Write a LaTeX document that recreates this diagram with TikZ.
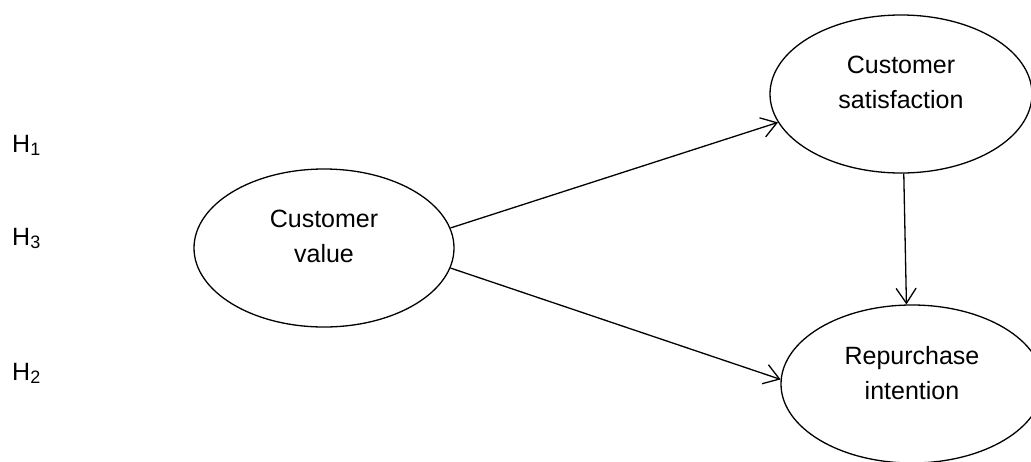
\documentclass[tikz,border=0pt]{standalone}
\usepackage{fontspec}
\setmainfont{Liberation Sans}
\usetikzlibrary{shapes.geometric,arrows.meta}
\begin{document}
\begin{tikzpicture}[x=1pt,y=-1pt,
  ell/.style={draw=black,shape=ellipse,line width=1.3pt,inner sep=0pt},
  txt/.style={inner sep=0pt,align=center,font=\fontsize{25}{35}\selectfont},
  hyp/.style={inner sep=0pt,anchor=base west,font=\fontsize{25}{30}\selectfont},
  conn/.style={line width=1.3pt,-{Straight Barb[length=15pt,width=20pt]}}]
\useasboundingbox (0,0) rectangle (1031,461);
\fill[white] (0,0) rectangle (1031,461);
\begin{scope}
\clip (0,0) rectangle (1031,461);
\node[ell,minimum width=260pt,minimum height=158pt] (cv) at (324,248) {};
\node[ell,minimum width=262pt,minimum height=158pt] (cs) at (901,94) {};
\node[ell,minimum width=262pt,minimum height=158pt] (ri) at (912,384) {};
\end{scope}
\node[txt] (cvt) at (324,236) {Customer\\value};
\node[txt] (cst) at (901,82.5) {Customer\\satisfaction};
\node[txt] (rit) at (912,373.5) {Repurchase\\intention};
\node[hyp] (h1) at (12,152) {H\raisebox{-3pt}{\fontsize{18}{18}\selectfont 1}};
\node[hyp] (h3) at (12,245) {H\raisebox{-3pt}{\fontsize{18}{18}\selectfont 3}};
\node[hyp] (h2) at (12,380) {H\raisebox{-3pt}{\fontsize{18}{18}\selectfont 2}};
\draw[conn] (cv.9) -- (cs.193);
\draw[conn] (cv.-9) -- (ri.178);
\draw[conn] (cs.-88) -- (ri.94);
\end{tikzpicture}
\end{document}
